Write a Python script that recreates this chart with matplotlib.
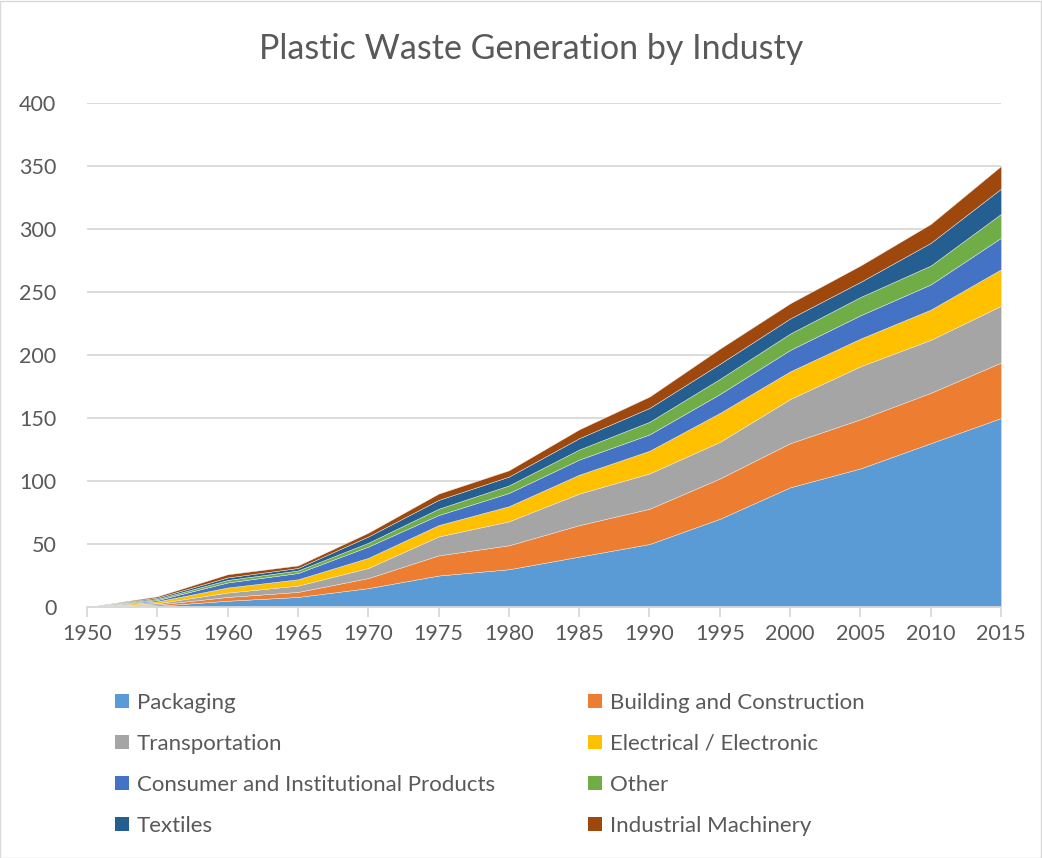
import numpy as np
import matplotlib.pyplot as plt
from matplotlib.patches import Patch, Rectangle

years = [1950, 1955, 1960, 1965, 1970, 1975, 1980, 1985, 1990, 1995, 2000, 2005, 2010, 2015]

packaging    = [0, 1, 5, 8, 15, 25, 30, 40, 50, 70, 95, 110, 130, 150]
building     = [0, 1, 3, 4, 8, 16, 19, 25, 28, 32, 35, 39, 40, 44]
transport    = [0, 1, 3.5, 5, 8, 15, 19, 25, 28, 29, 35, 42, 42, 45]
electrical   = [0, 1.5, 4, 5, 8, 9, 12, 15, 18, 23, 22, 22, 24, 29]
consumer     = [0, 1, 4, 5, 9, 8, 10.5, 12, 13, 15, 17, 18.5, 20, 25]
other        = [0, 1, 2, 2, 3, 5, 6, 8, 10, 12, 13, 14.5, 15, 19]
textiles     = [0, 1, 2, 2, 5, 7, 7, 9, 11, 12, 12, 12, 18, 20]
industrial   = [0, 1, 2.5, 2, 3, 5, 5, 7, 9, 12, 12, 13, 15, 18]

labels = ['Packaging', 'Building and Construction', 'Transportation',
          'Electrical / Electronic', 'Consumer and Institutional Products',
          'Other', 'Textiles', 'Industrial Machinery']
colors = ['#5B9BD5', '#ED7D31', '#A5A5A5', '#FFC000',
          '#4472C4', '#70AD47', '#255E91', '#9E480E']

plt.rcParams['font.family'] = ['Lato', 'DejaVu Sans']
txt = '#595959'

fig = plt.figure(figsize=(10.42, 8.58), dpi=100)
ax = fig.add_axes([0.0835, 0.2925, 0.8772, 0.5875])

series = [packaging, building, transport, electrical, consumer, other, textiles, industrial]
ax.stackplot(years, *series, colors=colors, labels=labels, linewidth=0.3,
             edgecolor='#EEEEEE', zorder=2)

ax.set_xlim(1950, 2015)
ax.set_ylim(0, 400)
ax.set_xticks(years)
ax.set_yticks(np.arange(0, 401, 50))
ax.grid(axis='y', color='#D9D9D9', linewidth=1.3, zorder=0)
ax.set_axisbelow(True)
for s in ['top', 'right', 'left']:
    ax.spines[s].set_visible(False)
ax.spines['bottom'].set_color('#D9D9D9')
ax.spines['bottom'].set_linewidth(1.3)
ax.tick_params(axis='x', colors='#D9D9D9', length=7, width=1.3, labelcolor=txt,
               labelsize=15.5, pad=5)
ax.tick_params(axis='y', length=0, labelcolor=txt, labelsize=15.5, pad=22)

fig.text(0.51, 0.943, 'Plastic Waste Generation by Industy', ha='center', va='center',
         fontsize=24.5, color=txt)

# two legend columns, filled row by row
leg_kw = dict(loc='upper left', frameon=False, fontsize=16, labelcolor=txt,
              handlelength=0.63, handleheight=0.63, handletextpad=0.35,
              labelspacing=0.94, borderpad=0, borderaxespad=0)
col1 = [Patch(facecolor=colors[i], label=labels[i]) for i in (0, 2, 4, 6)]
col2 = [Patch(facecolor=colors[i], label=labels[i]) for i in (1, 3, 5, 7)]
fig.legend(handles=col1, bbox_to_anchor=(115 / 1042, 1 - 693 / 858), **leg_kw)
fig.legend(handles=col2, bbox_to_anchor=(588 / 1042, 1 - 693 / 858), **leg_kw)

fig.patches.append(Rectangle((0.0, 0.0), 0.999, 0.999, transform=fig.transFigure,
                             fill=False, edgecolor='#D9D9D9', linewidth=1))

fig.savefig('out.png', dpi=100)
